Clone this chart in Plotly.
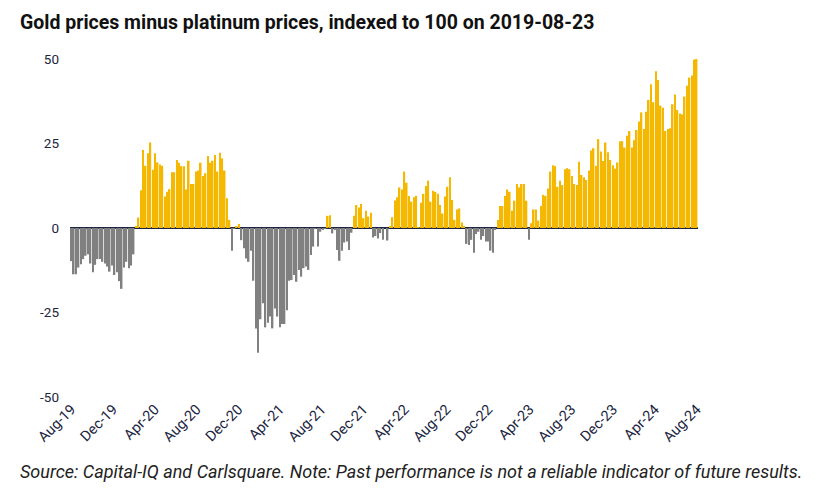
import pandas as pd
import plotly.graph_objects as go

start_date = "2019-08-23"

values = [
    # Aug 2019 - Mar 2020
    -9.8, -13.7, -13.7, -11.7, -10.7, -9.2, -8.2, -7.8, -10.5, -13.1, -10.9, -9.2, -9.2, -10.0,
    -10.5, -11.4, -12.9, -11.1, -13.9, -13.1, -15.7, -18.0, -11.7, -10.0, -11.9, -11.1, -7.8,
    0.3,
    # Apr 2020 - Nov 2020
    3.1, 11.2, 23.1, 18.4, 22.1, 25.3, 17.2, 22.1, 19.4, 18.8, 18.4, 9.3, 10.7, 11.5, 16.5, 16.5,
    20.1, 19.3, 18.3, 18.3, 11.4, 19.9, 13.0, 13.0, 16.7, 17.0, 19.3, 15.4, 16.2, 21.3, 19.3, 19.9,
    21.6, 16.7,
    # Dec 2020 - Mar 2022
    22.3, 20.6, 17.0, 8.8, 2.4, -6.7, -0.2, 0.4, 1.2, -3.6, -6.0, -9.0, -10.0, -6.7, -15.6, -29.7,
    -36.9, -27.0, -22.3, -29.4, -28.0, -26.2, -29.7, -23.8, -26.2, -29.4, -28.4, -28.4, -24.3, -15.6,
    -15.4, -13.9, -15.9, -12.4, -14.4, -11.9, -11.4, -12.4, -8.0, -5.5, -0.2, -5.5, -1.1, -0.6, -0.2,
    3.6, 3.8, -1.6, -0.6, -6.5, -9.7, -6.7, -4.3, -4.0, -6.5, -1.4, 3.6, 6.8, 6.1, 7.1, 2.9, 5.1, 3.4,
    4.5, -2.8, -2.4, -3.1, -1.5,
    # Mar 2022 - Feb 2023
    -3.5, 0.0, -3.7, 0.6, 3.2, 8.1, 9.1, 12.0, 11.4, 16.7, 13.4, 9.5, 7.8, 9.1, 9.5, 0.2, 7.5, 10.1,
    12.4, 14.0, 7.8, 11.0, 10.7, 10.1, 6.8, 4.3, 9.3, 12.2, 15.0, 8.3, 2.4, 5.5, 5.8, 1.6, 0.4, -4.7,
    -5.0, -3.5, -7.3, -1.8, -1.1, -3.5, -2.4, -4.0, -4.0,
    # Feb 2023 - Dec 2023
    -6.7, -7.3, -0.6, 2.4, 6.5, 6.5, 9.5, 11.4, 10.7, 5.1, 8.1, 13.0, 12.0, 13.0, 13.0, 8.1, -3.5,
    1.4, 5.5, 5.5, 2.2, 6.5, 9.8, 9.5, 11.7, 16.7, 18.6, 18.3, 12.2, 14.0, 12.7, 17.4, 17.7, 17.4,
    15.4, 13.0, 12.7, 19.6, 15.7, 15.0, 14.2, 17.0, 22.9, 23.6,
    # Dec 2023 - Aug 2024
    18.4, 26.3, 22.6, 19.8, 25.3, 22.4, 20.1, 18.6, 17.5, 19.4, 25.7, 25.7, 23.8, 27.3, 28.7, 23.8,
    26.0, 29.0, 31.5, 34.2, 29.3, 34.4, 37.9, 42.5, 37.2, 46.4, 43.8, 36.2, 35.6, 28.7, 29.3, 29.5,
    36.6, 39.5, 34.9, 33.9, 33.6, 38.9, 42.1, 44.5, 45.1, 49.8, 50.0,
]

tick_labels = ["Aug-19", "Dec-19", "Apr-20", "Aug-20", "Dec-20", "Apr-21", "Aug-21", "Dec-21",
               "Apr-22", "Aug-22", "Dec-22", "Apr-23", "Aug-23", "Dec-23", "Apr-24", "Aug-24"]
y_ticks = [-50, -25, 0, 25, 50]

title = "<b>Gold prices minus platinum prices, indexed to 100 on 2019-08-23</b>"
source = "<i>Source: Capital-IQ and Carlsquare. Note: Past performance is not a reliable indicator of future results.</i>"

GOLD = "#F5B800"
GREY = "#808080"
NAVY = "#1c2541"

dates = pd.date_range(start=start_date, periods=len(values), freq="7D")
colors = [GOLD if v >= 0 else GREY for v in values]

t0 = pd.Timestamp(start_date)
tick_vals = [t0 + pd.DateOffset(months=4 * i) for i in range(len(tick_labels))]

ML, MR, MT, MB = 70, 131, 59, 103

fig = go.Figure(go.Bar(x=dates, y=values, marker=dict(color=colors, line=dict(width=0)),
                       hoverinfo="x+y"))

fig.update_layout(
    width=829, height=500,
    margin=dict(l=ML, r=MR, t=MT, b=MB),
    paper_bgcolor="white", plot_bgcolor="white",
    bargap=0.35,
    showlegend=False,
    font=dict(family="Roboto, sans-serif", color=NAVY),
    xaxis=dict(
        range=[dates[0] - pd.Timedelta(days=4), dates[-1] + pd.Timedelta(days=4)],
        tickvals=tick_vals, ticktext=tick_labels, tickangle=-45,
        tickfont=dict(size=14.5, color=NAVY), showgrid=False, zeroline=False,
        showline=False, ticks="",
    ),
    yaxis=dict(
        range=[-50, 50], tickvals=y_ticks, ticktext=[str(v) for v in y_ticks],
        tickfont=dict(size=13.5, color=NAVY), showgrid=False, zeroline=True,
        zerolinecolor=NAVY, zerolinewidth=1.5, showline=False, ticks="",
        ticklabelstandoff=10,
    ),
    annotations=[
        dict(text=title, x=18, y=22, xref="paper", yref="paper", showarrow=False,
             xanchor="left", yanchor="middle", font=dict(size=19.5, color="#111111")),
        dict(text=source, x=18, y=472, xref="paper", yref="paper", showarrow=False,
             xanchor="left", yanchor="middle", font=dict(size=18, color="#222222")),
    ],
)

# convert pixel positions for annotations into paper coordinates
pw = 829 - ML - MR
ph = 500 - MT - MB
for a in fig.layout.annotations:
    px, py = a.x, a.y
    a.x = (px - ML) / pw
    a.y = (500 - MB - py) / ph

fig.write_html("out.html")
